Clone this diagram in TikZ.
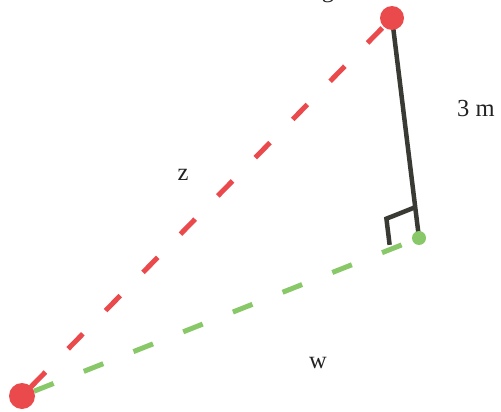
\documentclass[tikz,border=0pt]{standalone}
\usepackage{fontspec}
\setmainfont{Liberation Serif}
\usetikzlibrary{calc}
\definecolor{cred}{RGB}{234,74,76}
\definecolor{cgreen}{RGB}{136,200,104}
\definecolor{cdark}{RGB}{58,58,52}
\definecolor{ctext}{RGB}{34,34,34}
\begin{document}
\begin{tikzpicture}[x=1pt,y=-1pt,
  lbl/.style={font=\fontsize{24.5}{28}\selectfont, text=ctext, inner sep=0pt},
  reddash/.style={cred, line width=5pt, dash pattern=on 21pt off 32.5pt, dash phase=41pt},
  greendash/.style={cgreen, line width=5pt, dash pattern=on 21pt off 32.5pt, dash phase=40.5pt},
  darkline/.style={cdark, line width=4.5pt},
  bigdot/.style={circle, fill=cred, inner sep=0pt},
  smalldot/.style={circle, fill=cgreen, inner sep=0pt, minimum size=14pt}]
\useasboundingbox (0,0) rectangle (501,412);
\coordinate (P) at (392,18);
\coordinate (A) at (22,396);
\coordinate (G) at (419,238);
\draw[reddash] (A) -- (P);
\draw[greendash] (A) -- (G);
\draw[darkline] (P) -- (G);
\coordinate (m1) at ($(G)!31pt!(P)$);
\coordinate (m3) at ($(G)!31pt!(A)$);
\coordinate (m2) at ($(m1)+(m3)-(G)$);
\draw[darkline, line join=miter] (m1) -- (m2) -- ($(m2)!0.85!(m3)$);
\node[bigdot, minimum size=24pt] (Pn) at (P) {};
\node[bigdot, minimum size=26pt] (An) at (A) {};
\node[smalldot] (Gn) at (G) {};
\node[lbl, anchor=base] (top) at (328,-2.5) {g};
\node[lbl, anchor=base west] (h) at (457,117) {3 m};
\node[lbl] (z) at (183,175) {z};
\node[lbl] (w) at (318,363) {w};
\end{tikzpicture}
\end{document}
